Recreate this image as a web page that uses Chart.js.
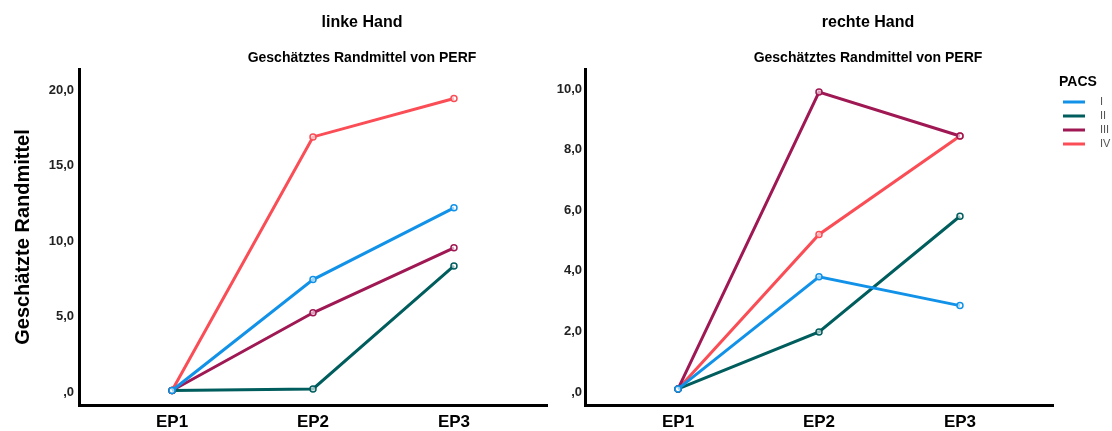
<!DOCTYPE html>
<html>
<head>
<meta charset="utf-8">
<script src="https://cdn.jsdelivr.net/npm/chart.js@4.4.1/dist/chart.umd.min.js"></script>
<style>
  html, body { margin: 0; padding: 0; background: #fff; }
  #wrap { position: relative; width: 1112px; height: 431px; overflow: hidden; }
  .panel { position: absolute; top: 0; }
</style>
</head>
<body>
<div id="wrap">
  <div class="panel" style="left:0px"><canvas id="leftChart" width="556" height="431"></canvas></div>
  <div class="panel" style="left:540px"><canvas id="rightChart" width="572" height="431"></canvas></div>
</div>
<script>
// Geschaetzte Randmittel von PERF, by PACS group, per time point
const categories = ['EP1', 'EP2', 'EP3'];
const groups = ['I', 'II', 'III', 'IV'];
const groupColors = ['#1192e8', '#005d5d', '#9f1853', '#fa4d56'];

// linke Hand
const leftI   = [0.1, 7.45, 12.2];
const leftII  = [0.1, 0.2, 8.35];
const leftIII = [0.1, 5.25, 9.55];
const leftIV  = [0.1, 16.9, 19.45];
const leftTicks = [0, 5, 10, 15, 20];

// rechte Hand
const rightI   = [0.1, 3.8, 2.85];
const rightII  = [0.1, 1.98, 5.8];
const rightIII = [0.1, 9.9, 8.45];
const rightIV  = [0.1, 5.2, 8.45];
const rightTicks = [0, 2, 4, 6, 8, 10];

const FONT = "'Liberation Sans', Arial, sans-serif";

// SPSS style number labels: 20,0 and ,0
function spssNumber(v) {
  if (v === 0) return ',0';
  return v.toFixed(1).replace('.', ',');
}

function makeDatasets(series) {
  return series.map((vals, i) => ({
    label: groups[i],
    data: vals.map((v, k) => ({ x: k, y: v })),
    borderColor: groupColors[i],
    backgroundColor: '#ffffff',
    borderWidth: 3,
    pointRadius: 3,
    pointBorderWidth: 1.5,
    pointBorderColor: groupColors[i],
    pointBackgroundColor: 'rgba(255,255,255,0.6)',
    tension: 0
  }));
}

// titles above each panel
const panelTitles = {
  id: 'panelTitles',
  afterDraw(chart, args, opts) {
    const ctx = chart.ctx;
    const cx = (chart.chartArea.left + chart.chartArea.right) / 2 + 49;
    ctx.save();
    ctx.fillStyle = '#000';
    ctx.textAlign = 'center';
    ctx.textBaseline = 'middle';
    ctx.font = 'bold 16px ' + FONT;
    ctx.fillText(opts.title, cx, 23);
    ctx.font = 'bold 14px ' + FONT;
    ctx.fillText(opts.subtitle, cx, 58);
    ctx.restore();
  }
};

// PACS legend on the right side
const pacsLegend = {
  id: 'pacsLegend',
  afterDraw(chart, args, opts) {
    if (!opts.show) return;
    const ctx = chart.ctx;
    const x0 = chart.chartArea.right + 10;
    ctx.save();
    ctx.fillStyle = '#000';
    ctx.textAlign = 'center';
    ctx.textBaseline = 'middle';
    ctx.font = 'bold 14px ' + FONT;
    ctx.fillText('PACS', x0 + 15, 82);
    chart.data.datasets.forEach((ds, i) => {
      const y = 102 + i * 14;
      ctx.strokeStyle = ds.borderColor;
      ctx.lineWidth = 3;
      ctx.beginPath();
      ctx.moveTo(x0, y);
      ctx.lineTo(x0 + 22, y);
      ctx.stroke();
      ctx.fillStyle = '#555';
      ctx.textAlign = 'left';
      ctx.font = '11px ' + FONT;
      ctx.fillText(ds.label, x0 + 37, y);
    });
    ctx.restore();
  }
};

function buildChart(canvasId, series, yMin, yMax, yTicks, axisWidth, rightPad, title, showYTitle, showLegend) {
  const ctx = document.getElementById(canvasId).getContext('2d');
  return new Chart(ctx, {
    type: 'line',
    data: { datasets: makeDatasets(series) },
    plugins: [panelTitles, pacsLegend],
    options: {
      responsive: false,
      animation: false,
      devicePixelRatio: 1,
      layout: { padding: { left: 0, top: 69, right: rightPad, bottom: 0 } },
      plugins: {
        legend: { display: false },
        tooltip: { enabled: false },
        panelTitles: { title: title, subtitle: 'Geschätztes Randmittel von PERF' },
        pacsLegend: { show: showLegend }
      },
      scales: {
        x: {
          type: 'linear',
          min: -0.66,
          max: 2.66,
          afterBuildTicks: (scale) => { scale.ticks = categories.map((c, i) => ({ value: i })); },
          afterFit: (scale) => { scale.height = 26; },
          grid: { display: false, drawTicks: false },
          border: { display: true, color: '#000', width: 3 },
          ticks: {
            padding: 7,
            color: '#000',
            font: { family: FONT, size: 17, weight: 'bold' },
            callback: (v) => categories[v]
          }
        },
        y: {
          min: yMin,
          max: yMax,
          afterBuildTicks: (scale) => { scale.ticks = yTicks.map(v => ({ value: v })); },
          afterFit: (scale) => { scale.width = axisWidth; },
          grid: { display: false, drawTicks: false },
          border: { display: true, color: '#000', width: 3 },
          title: {
            display: showYTitle,
            text: 'Geschätzte Randmittel',
            color: '#000',
            font: { family: FONT, size: 20, weight: 'bold' },
            padding: { top: 11, bottom: 0 }
          },
          ticks: {
            padding: showYTitle ? 5 : 3,
            color: '#222',
            font: { family: FONT, size: 13, weight: 'bold' },
            callback: (v) => spssNumber(v)
          }
        }
      }
    }
  });
}

buildChart('leftChart', [leftI, leftII, leftIII, leftIV], -0.86, 21.4, leftTicks, 79, 9, 'linke Hand', true, false);
buildChart('rightChart', [rightI, rightII, rightIII, rightIV], -0.43, 10.66, rightTicks, 45, 59, 'rechte Hand', false, true);
</script>
</body>
</html>
